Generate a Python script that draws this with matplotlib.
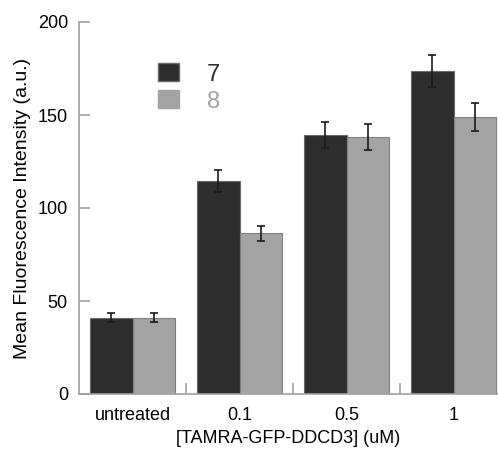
import matplotlib
matplotlib.use("Agg")
import matplotlib.pyplot as plt
import numpy as np
from matplotlib.patches import Patch

plt.rcParams['font.family'] = ['Liberation Sans', 'DejaVu Sans']

categories = ["untreated", "0.1", "0.5", "1"]
series_names = ["7", "8"]
vals7 = [41, 114.5, 139.5, 173.5]
err7 = [2.5, 6, 7, 8.5]
vals8 = [41, 86.5, 138, 149]
err8 = [2.5, 4, 7, 7.5]
yticks = [0, 50, 100, 150, 200]

c7 = '#2d2d2d'
c8 = '#a3a3a3'
axc = '#a0a0a0'

fig = plt.figure(figsize=(4.98, 4.53), dpi=100)
ax = fig.add_axes([79/498, 59/453, (498-79)/498, (394-22)/453])

x = np.arange(len(categories))
w = 0.4
ax.bar(x - w/2, vals7, w, color=c7, edgecolor='#6a6a6a', linewidth=0.8, zorder=2)
ax.bar(x + w/2, vals8, w, color=c8, edgecolor='#808080', linewidth=0.8, zorder=2)
ax.errorbar(x - w/2, vals7, yerr=err7, fmt='none', ecolor='#1a1a1a', elinewidth=1.2, capsize=3, capthick=1.2, zorder=3)
ax.errorbar(x + w/2, vals8, yerr=err8, fmt='none', ecolor='#1a1a1a', elinewidth=1.2, capsize=3, capthick=1.2, zorder=3)

ax.set_xlim(-0.5, (498-79)/107 - 0.5)
ax.set_ylim(0, 200)
ax.set_yticks(yticks)
ax.set_xticks(x)
ax.set_xticklabels(categories)
ax.set_xticks([0.5, 1.5, 2.5], minor=True)

for s in ['top', 'right']:
    ax.spines[s].set_visible(False)
for s in ['left', 'bottom']:
    ax.spines[s].set_color(axc)
    ax.spines[s].set_linewidth(1.2)

ax.tick_params(axis='y', direction='in', length=8, width=1.2, color=axc, labelsize=13, pad=8)
ax.tick_params(axis='x', which='major', length=0, labelsize=13, pad=9)
ax.tick_params(axis='x', which='minor', direction='in', length=8, width=1.2, color=axc)

ax.set_ylabel("Mean Fluorescence Intensity (a.u.)", fontsize=14, labelpad=5)
ax.set_xlabel("[TAMRA-GFP-DDCD3] (uM)", fontsize=13, labelpad=5)

handles = [Patch(facecolor=c7, edgecolor='#6a6a6a'), Patch(facecolor=c8, edgecolor='#a3a3a3')]
leg = ax.legend(handles, series_names, loc='upper left', bbox_to_anchor=(0.139, 0.946),
                frameon=False, fontsize=17, handlelength=0.85, handleheight=0.8,
                handletextpad=1.2, labelspacing=0.2, labelcolor=[c7, c8])

fig.savefig("out.png", dpi=100)
